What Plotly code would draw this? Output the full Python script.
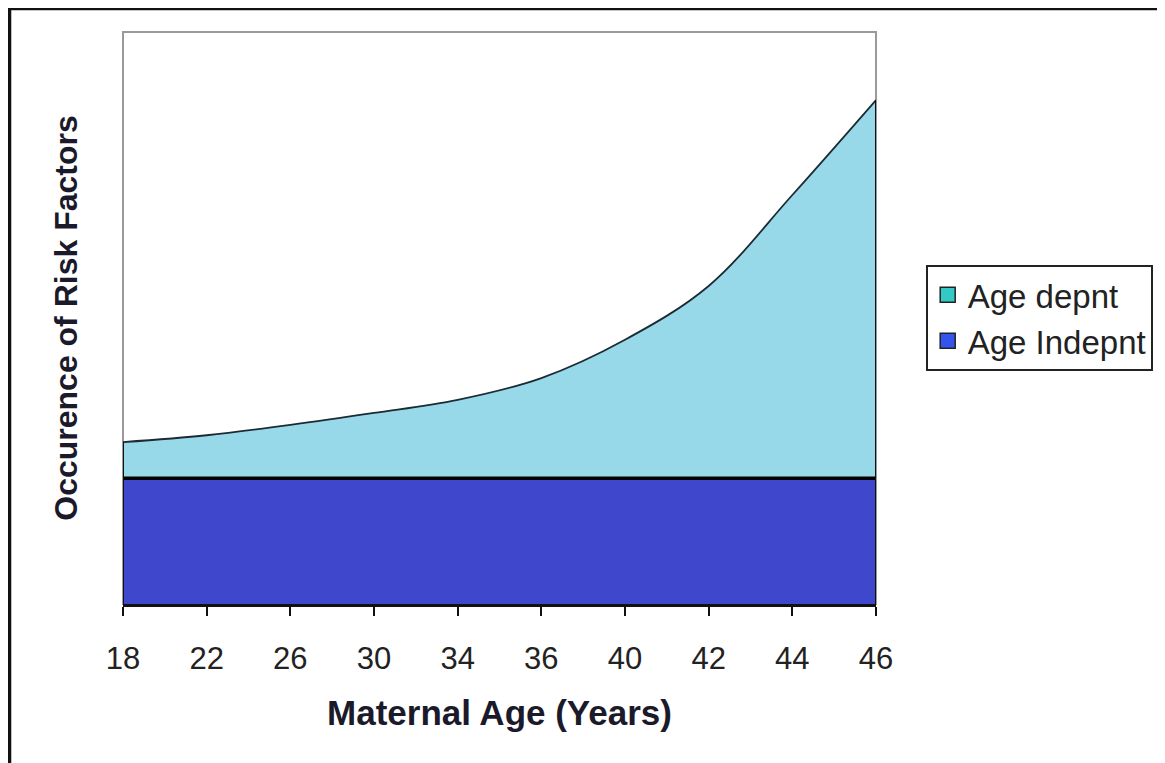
import plotly.graph_objects as go

# Data
categories = ["18", "22", "26", "30", "34", "36", "40", "42", "44", "46"]
age_indepnt = [22, 22, 22, 22, 22, 22, 22, 22, 22, 22]
age_depnt = [6.3, 7.5, 9.3, 11.4, 13.7, 17.5, 24.2, 33.6, 49.5, 66.1]
series_names = ["Age depnt", "Age Indepnt"]

FONT = "Arial, Liberation Sans, DejaVu Sans, sans-serif"
fill_dep = "#98D9E9"
fill_ind = "#3F47CC"
leg_dep = "#33C9C6"
leg_ind = "#3355EE"

totals = [a + b for a, b in zip(age_indepnt, age_depnt)]

fig = go.Figure()

# Bottom layer: age independent
fig.add_trace(go.Scatter(
    x=categories, y=age_indepnt, stackgroup="s", mode="lines",
    line=dict(color="black", width=3.5, shape="spline"),
    fillcolor=fill_ind, name=series_names[1], showlegend=False,
    hoverinfo="x+y",
))
# Top layer: age dependent
fig.add_trace(go.Scatter(
    x=categories, y=age_depnt, stackgroup="s", mode="lines",
    line=dict(color="#1c2a33", width=1.8, shape="spline", smoothing=1.0),
    fillcolor=fill_dep, name=series_names[0], showlegend=False,
    hoverinfo="x+y",
))

# Vertical edges of the stacked area (derived from the data)
for idx in (0, len(categories) - 1):
    fig.add_trace(go.Scatter(
        x=[categories[idx], categories[idx]], y=[0, totals[idx]],
        mode="lines", line=dict(color="#111111", width=2),
        showlegend=False, hoverinfo="skip", cliponaxis=False,
    ))

# Legend entries
fig.add_trace(go.Scatter(
    x=[None], y=[None], mode="markers", name=series_names[0],
    marker=dict(symbol="square", size=15, color=leg_dep,
                line=dict(color="#222222", width=1.5)),
))
fig.add_trace(go.Scatter(
    x=[None], y=[None], mode="markers", name=series_names[1],
    marker=dict(symbol="square", size=15, color=leg_ind,
                line=dict(color="#222222", width=1.5)),
))

# The page adds an 8px body margin, so the figure is sized/positioned for that.
fig.update_layout(
    width=1157, height=755, autosize=False,
    margin=dict(l=115, r=286, t=24, b=159, pad=0),
    paper_bgcolor="white", plot_bgcolor="rgba(0,0,0,0)",
    font=dict(family=FONT, color="#222222"),
    showlegend=True,
    legend=dict(
        x=1.066, y=0.593, xanchor="left", yanchor="top",
        traceorder="normal",
        bordercolor="#222222", borderwidth=2, bgcolor="white",
        font=dict(size=33, family=FONT, color="#222222"),
        tracegroupgap=0, itemwidth=30,
    ),
    xaxis=dict(
        type="category", range=[0, len(categories) - 1],
        showgrid=False, zeroline=False,
        showline=True, linecolor="#111111", linewidth=3,
        ticks="outside", ticklen=9, tickwidth=2, tickcolor="#111111",
        ticklabelstandoff=16,
        tickfont=dict(size=31, family=FONT, color="#222222"),
        title=dict(text="<b>Maternal Age (Years)</b>",
                   font=dict(size=35, family=FONT, color="#1a1a2a"),
                   standoff=26),
    ),
    yaxis=dict(
        range=[0, 100], showgrid=False, zeroline=False,
        showticklabels=False, ticks="", showline=False,
        title=dict(text="<b>Occurence of Risk Factors</b>",
                   font=dict(size=32, family=FONT, color="#1a1a2a"),
                   standoff=34),
    ),
    shapes=[
        # plot area border (grey)
        dict(type="rect", xref="paper", yref="paper", x0=0, x1=1, y0=0, y1=1,
             line=dict(color="#9a9a9a", width=2), layer="below"),
        # outer frame of the picture
        dict(type="rect", xref="paper", yref="paper",
             x0=-0.1507, x1=1.7, y0=-0.6, y1=1.0411,
             line=dict(color="#111111", width=3.5), layer="above"),
    ],
)

fig.write_html("out.html")
